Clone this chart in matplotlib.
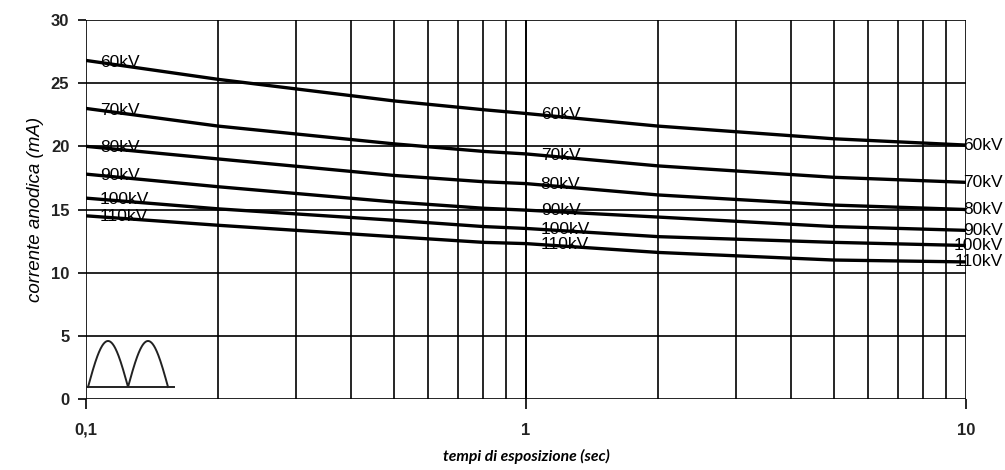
import numpy as np
import matplotlib.pyplot as plt
from matplotlib.transforms import blended_transform_factory

# exposure time (s) and anode current (mA) per tube voltage
times = [0.1, 0.2, 0.5, 0.8, 1, 2, 5, 10]
kv_labels = ['60kV', '70kV', '80kV', '90kV', '100kV', '110kV']
ma_60 = [26.8, 25.3, 23.6, 22.9, 22.6, 21.6, 20.6, 20.1]
ma_70 = [23.0, 21.6, 20.2, 19.6, 19.4, 18.45, 17.55, 17.15]
ma_80 = [20.0, 19.0, 17.7, 17.2, 17.05, 16.15, 15.35, 15.0]
ma_90 = [17.8, 16.8, 15.6, 15.1, 14.95, 14.4, 13.65, 13.35]
ma_100 = [15.9, 15.05, 14.15, 13.65, 13.5, 12.85, 12.4, 12.15]
ma_110 = [14.5, 13.75, 12.85, 12.4, 12.3, 11.6, 11.0, 10.85]
curves = [ma_60, ma_70, ma_80, ma_90, ma_100, ma_110]

y_ticks = [0, 5, 10, 15, 20, 25, 30]
x_ticks = [0.1, 1, 10]
x_tick_labels = ['0,1', '1', '10']

plt.rcParams['font.family'] = ['Liberation Sans', 'DejaVu Sans']

fig = plt.figure(figsize=(10.05, 4.7), dpi=100)
ax = fig.add_axes([0.0856, 0.1511, 0.8756, 0.8063])

ax.set_xscale('log')
ax.set_xlim(0.1, 10)
ax.set_ylim(0, 30)

# grid: horizontal every 5 mA, vertical at every decade step
for y in y_ticks:
    ax.axhline(y, color='black', lw=1.2, zorder=1)
for dec in [0.1, 1]:
    for k in range(1, 11):
        ax.axvline(dec * k, color='black', lw=1.2, zorder=1)

lt = np.log10(times)
right_tr = blended_transform_factory(fig.transFigure, ax.transData)
for lab, ma in zip(kv_labels, curves):
    ax.plot(times, ma, color='black', lw=2.4, zorder=3)
    for xt in [0.1075, 1.08]:
        yt = np.interp(np.log10(xt), lt, ma)
        ax.text(xt, yt, lab, fontsize=12.5, color='black', ha='left',
                va='center', zorder=4, clip_on=False)
    ax.text(0.998, ma[-1], lab, fontsize=12.5, color='black', ha='right',
            va='center', zorder=4, clip_on=False, transform=right_tr)

for s in ax.spines.values():
    s.set_visible(False)

ax.set_yticks(y_ticks)
ax.set_xticks(x_ticks)
ax.set_xticklabels(x_tick_labels)
ax.xaxis.set_minor_locator(plt.NullLocator())
ax.tick_params(axis='y', length=6, width=1.2, pad=6, labelsize=12)
ax.tick_params(axis='x', length=7, width=1.2, pad=10, labelsize=12)
for lbl in ax.get_xticklabels() + ax.get_yticklabels():
    lbl.set_fontweight('bold')
    lbl.set_color('#222222')

# rectified wave icon in the lower left corner
t = np.linspace(0, 2 * np.pi, 200)
ix = (2 + 40 * t / np.pi) / 880
iy = (12 + 46 * np.abs(np.sin(t))) / 379
ax.plot(ix, iy, color='#222222', lw=1.4, transform=ax.transAxes, zorder=3)
ax.plot([0, 88 / 880], [12 / 379, 12 / 379], color='#222222', lw=1.4,
        transform=ax.transAxes, zorder=3)

ax.set_xlabel('tempi di esposizione (sec)', family=['Lato', 'DejaVu Sans'],
              fontstyle='italic', fontweight='bold', fontsize=11.3,
              labelpad=8)
ax.set_ylabel('corrente anodica (mA)', fontstyle='italic', fontsize=13.5,
              labelpad=5)

fig.savefig('out.png', dpi=100)
